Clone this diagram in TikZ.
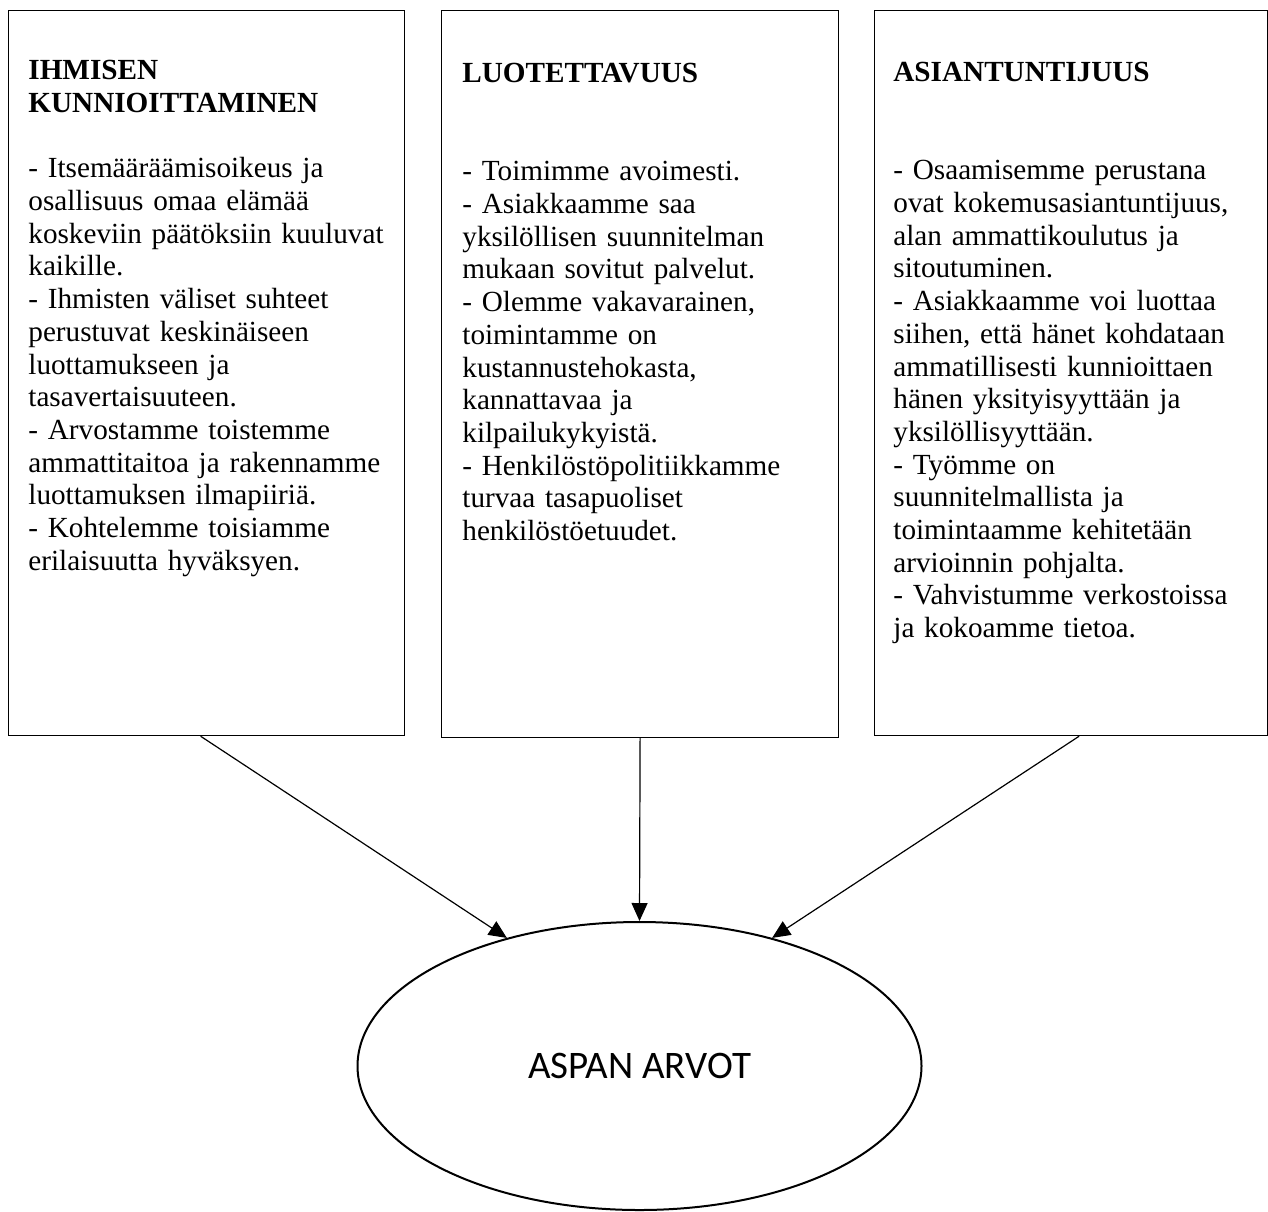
\documentclass[tikz,border=0pt]{standalone}
\usepackage{fontspec}
\setmainfont{Liberation Serif}
\newfontfamily\ellipsefont{Carlito}
\usetikzlibrary{arrows.meta}
\usetikzlibrary{shapes.geometric}
\usetikzlibrary{calc}
\tikzset{>={Triangle[length=9pt,width=8pt]}}
\tikzset{
    valuebox/.style={draw,line width=0.6pt,rectangle,anchor=north west,inner sep=0pt},
    valuetext/.style={anchor=north west,inner sep=0pt,text width=#1,align=left,
        font=\fontsize{14.6}{16.35}\selectfont},
}

\begin{document}
\begin{tikzpicture}[x=0.5pt,y=-0.5pt]
	\useasboundingbox (0,0) rectangle (1268,1211);
	% the three boxes
	\node[valuebox,minimum width=198pt,minimum height=362.5pt] (kunnioitus) at (8,10) {};
	\node[valuebox,minimum width=198.5pt,minimum height=363.5pt] (luotettavuus) at (441,10) {};
	\node[valuebox,minimum width=196.5pt,minimum height=362.5pt] (asiantuntijuus) at (874,10) {};
	\node[valuetext=185pt] (kunnioitusteksti) at (28,60) {\textbf{IHMISEN}\\
		\textbf{KUNNIOITTAMINEN}\\[16.35pt]
		- Itsemääräämisoikeus ja\\
		osallisuus omaa elämää\\
		koskeviin päätöksiin kuuluvat\\
		kaikille.\\
		- Ihmisten väliset suhteet\\
		perustuvat keskinäiseen\\
		luottamukseen ja\\
		tasavertaisuuteen.\\
		- Arvostamme toistemme\\
		ammattitaitoa ja rakennamme\\
		luottamuksen ilmapiiriä.\\
		- Kohtelemme toisiamme\\
		erilaisuutta hyväksyen.};
	\node[valuetext=185pt] (luotettavuusteksti) at (462,63) {\textbf{LUOTETTAVUUS}\\[32.7pt]
		- Toimimme avoimesti.\\
		- Asiakkaamme saa\\
		yksilöllisen suunnitelman\\
		mukaan sovitut palvelut.\\
		- Olemme vakavarainen,\\
		toimintamme on\\
		kustannustehokasta,\\
		kannattavaa ja\\
		kilpailukykyistä.\\
		- Henkilöstöpolitiikkamme\\
		turvaa tasapuoliset\\
		henkilöstöetuudet.};
	\node[valuetext=185pt] (asiantuntijuusteksti) at (893,62) {\textbf{ASIANTUNTIJUUS}\\[32.7pt]
		- Osaamisemme perustana\\
		ovat kokemusasiantuntijuus,\\
		alan ammattikoulutus ja\\
		sitoutuminen.\\
		- Asiakkaamme voi luottaa\\
		siihen, että hänet kohdataan\\
		ammatillisesti kunnioittaen\\
		hänen yksityisyyttään ja\\
		yksilöllisyyttään.\\
		- Työmme on\\
		suunnitelmallista ja\\
		toimintaamme kehitetään\\
		arvioinnin pohjalta.\\
		- Vahvistumme verkostoissa\\
		ja kokoamme tietoa.};
	% the ellipse
	\node[draw,ellipse,line width=1pt,inner sep=0pt,minimum width=282pt,minimum height=144pt,
		font=\ellipsefont\fontsize{19.5}{23}\selectfont] (arvot) at (639.5,1066) {ASPAN ARVOT};
	\draw[->,line width=0.6pt] ($(kunnioitus.south)+(-6,0)$) -- (arvot.136);
	\draw[->,line width=0.6pt] (luotettavuus.south) -- (arvot.north);
	\draw[->,line width=0.6pt] ($(asiantuntijuus.south)+(8,0)$) -- (arvot.44);
\end{tikzpicture}
\end{document}
